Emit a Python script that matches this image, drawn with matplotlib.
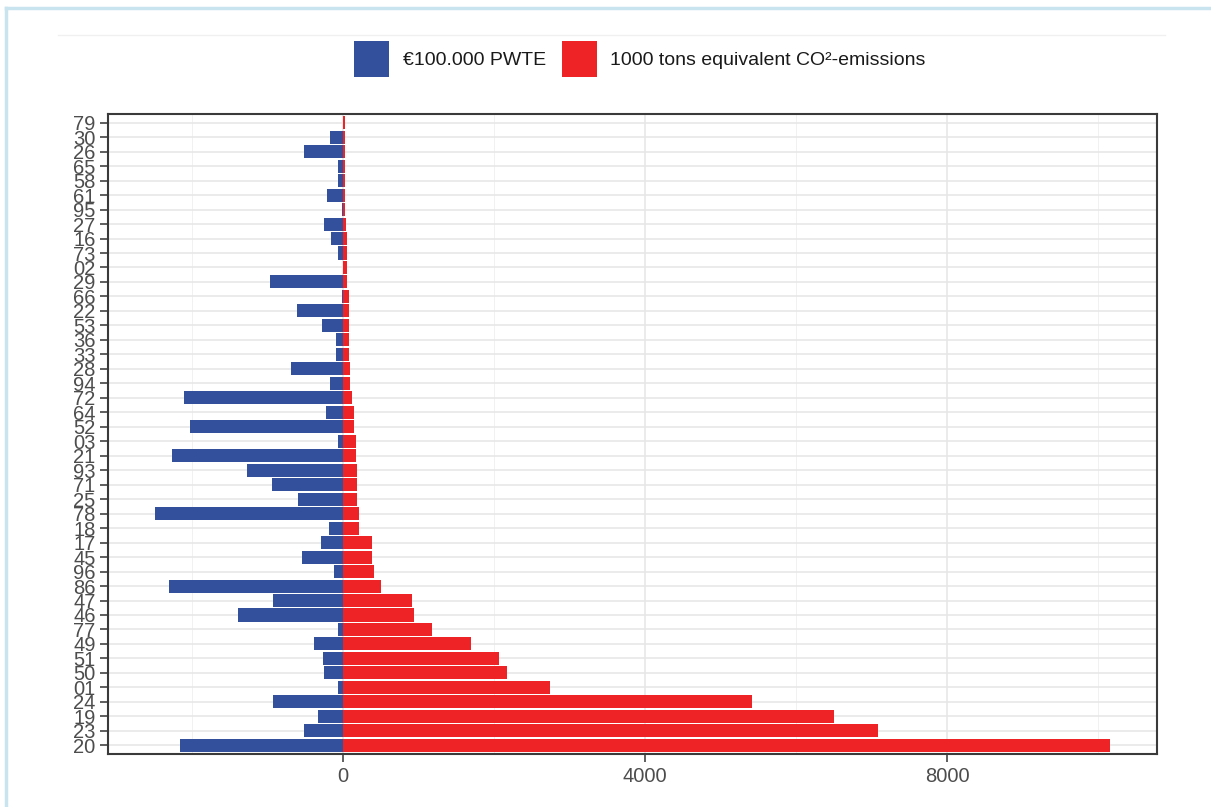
import numpy as np
import matplotlib.pyplot as plt
from matplotlib.patches import Patch
from matplotlib.lines import Line2D
from matplotlib.ticker import FixedLocator

plt.rcParams['font.family'] = ['Liberation Sans', 'DejaVu Sans']

# regions, listed top to bottom as in the chart
regions = ['79', '30', '26', '65', '58', '61', '95', '27', '16', '73', '02',
           '29', '66', '22', '53', '36', '33', '28', '94', '72', '64', '52',
           '03', '21', '93', '71', '25', '78', '18', '17', '45', '96', '86',
           '47', '46', '77', '49', '51', '50', '01', '24', '19', '23', '20']

# €100.000 PWTE (drawn to the left)
pwte = [0, -177, -521, -66, -62, -212, -9, -256, -163, -66, 0,
        -972, -18, -610, -278, -93, -93, -693, -177, -2111, -230, -2032,
        -66, -2261, -1268, -945, -596, -2496, -186, -296, -539, -115, -2310,
        -928, -1391, -71, -389, -265, -252, -62, -928, -331, -521, -2164]

# 1000 tons equivalent CO2-emissions
co2 = [25, 25, 25, 25, 25, 26, 30, 44, 53, 53, 57,
       57, 75, 80, 84, 84, 84, 85, 97, 119, 141, 150,
       172, 172, 181, 181, 190, 216, 216, 385, 385, 405, 506,
       906, 941, 1171, 1700, 2066, 2176, 2738, 5412, 6500, 7090, 10160]

blue = '#33509d'
red = '#ee2325'

fig = plt.figure(figsize=(12.11, 8.07), dpi=100)
ax = fig.add_axes([108 / 1211, 1 - 754 / 807, (1157 - 108) / 1211, (754 - 114) / 807])

y = np.arange(len(regions))[::-1]
ax.barh(y, pwte, height=0.9, color=blue, zorder=2)
ax.barh(y, co2, height=0.9, color=red, zorder=2)

ax.set_ylim(-0.6, len(regions) - 1 + 0.6)
ax.set_xlim(-3114, 10780)
ax.set_yticks(y)
ax.set_yticklabels(regions)
ax.set_xticks([0, 4000, 8000])
ax.xaxis.set_minor_locator(FixedLocator([-2000, 2000, 6000, 10000]))

ax.set_axisbelow(True)
ax.grid(which='major', color='#e6e6e6', lw=1.1)
ax.grid(which='minor', axis='x', color='#f1f1f1', lw=0.7)

ax.tick_params(which='major', length=6, width=1.2, color='#444444',
               labelcolor='#4d4d4d', labelsize=14.5, pad=3)
ax.tick_params(which='minor', length=0)
for s in ax.spines.values():
    s.set_color('#3a3a3a')
    s.set_linewidth(1.5)

# page frame
fig.add_artist(Line2D([6 / 1211, 6 / 1211], [0, 1 - 8 / 807], color='#c9e4ef',
                      lw=2.5, transform=fig.transFigure))
fig.add_artist(Line2D([6 / 1211, 1], [1 - 8 / 807, 1 - 8 / 807], color='#c9e4ef',
                      lw=2.5, transform=fig.transFigure))
fig.add_artist(Line2D([58 / 1211, 1165 / 1211], [1 - 35 / 807, 1 - 35 / 807],
                      color='#f0f0f0', lw=1, transform=fig.transFigure))

handles = [Patch(facecolor=blue, label='€100.000 PWTE'),
           Patch(facecolor=red, label='1000 tons equivalent CO²-emissions')]
fig.legend(handles=handles, loc='center', bbox_to_anchor=(640 / 1211, 1 - 59 / 807),
           ncol=2, frameon=False, fontsize=14, handlelength=1.8, handleheight=2.45,
           handletextpad=0.7, columnspacing=0.8, borderpad=0, labelcolor='#1a1a1a')

fig.savefig('out.png', dpi=100)
